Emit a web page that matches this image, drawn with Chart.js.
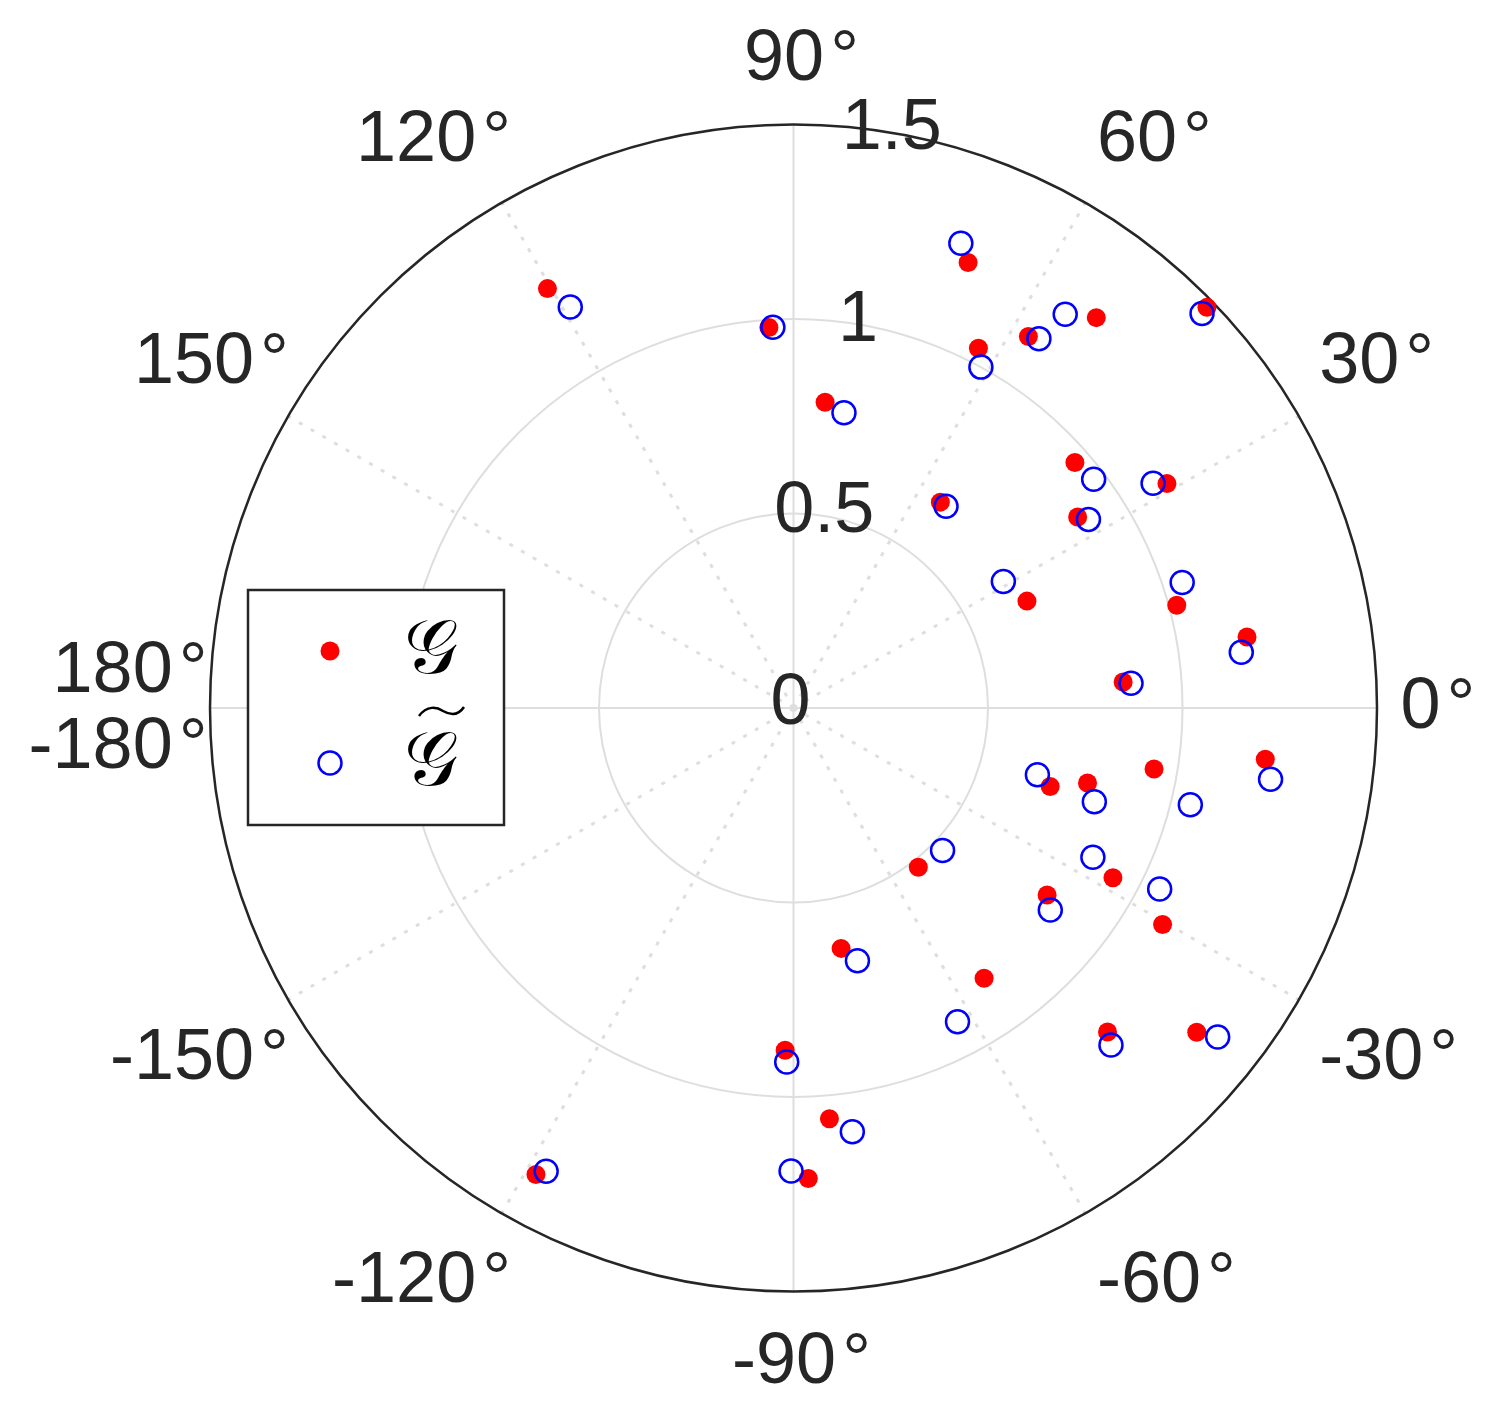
<!DOCTYPE html>
<html>
<head>
<meta charset="utf-8">
<script src="https://cdn.jsdelivr.net/npm/chart.js@4.4.1/dist/chart.umd.min.js"></script>
<style>
    body { margin: 0; background: #ffffff; }
    canvas { display: block; }
</style>
</head>
<body>
<canvas id="polarChart" width="1500" height="1410"></canvas>
<script>
// G (red dots): angle in degrees, radius
const gTheta = [120.4, 93.7, 84.1, 68.6, 62.8, 57.7, 52.2, 44.1, 41.1, 31.0, 54.5, 33.9, 24.6, 15.0, 8.9, 4.5,
    -17.0, -14.3, -9.6, -6.2, -28.0, -30.4, -36.4, -51.9, -54.8, -45.9, -38.8, -78.8, -91.4, -85.0, -88.2, -118.9];
const gR = [1.25, 0.98, 0.79, 1.23, 1.04, 1.13, 1.27, 1.48, 0.96, 1.12, 0.65, 0.88, 0.66, 1.02, 1.18, 0.85,
    0.69, 0.78, 0.94, 1.22, 0.93, 1.10, 0.81, 0.52, 0.85, 1.16, 1.33, 0.63, 0.88, 1.06, 1.21, 1.37];

// G tilde (blue circles)
const gtTheta = [119.1, 93.1, 80.3, 70.2, 61.2, 56.4, 55.4, 44.0, 37.3, 32.0, 52.9, 32.6, 31.1, 17.9, 7.1, 4.2,
    -15.3, -17.3, -13.7, -8.5, -26.5, -26.3, -38.2, -43.7, -62.4, -46.7, -37.8, -75.8, -91.1, -82.1, -90.3, -118.1];
const gtR = [1.18, 0.98, 0.77, 1.27, 1.00, 1.14, 1.23, 1.46, 0.97, 1.09, 0.65, 0.90, 0.63, 1.05, 1.16, 0.87,
    0.65, 0.81, 1.05, 1.24, 0.86, 1.05, 0.84, 0.53, 0.91, 1.19, 1.38, 0.67, 0.91, 1.10, 1.19, 1.35];

// axis ticks
const rMax = 1.5;
const rTicks = [0, 0.5, 1, 1.5];
const rTickLabels = ['0', '0.5', '1', '1.5'];
const thetaTicks = [0, 30, 60, 90, 120, 150, 180, -180, -150, -120, -90, -60, -30];
const thetaTickLabels = ['0', '30', '60', '90', '120', '150', '180', '-180', '-150', '-120', '-90', '-60', '-30'];
const seriesLabels = ['\u{1D4A2}', '\u{1D4A2}'];

const deg = Math.PI / 180;
const toXY = (thetas, rs) => thetas.map((t, i) => ({ x: rs[i] * Math.cos(t * deg), y: rs[i] * Math.sin(t * deg) }));

const textColor = '#262626';
const gridColor = '#dedede';
const labelFont = '72px "Liberation Sans", Arial, sans-serif';

function drawDegLabel(ctx, num, px, py, align) {
    const gap = 6;
    const wNum = ctx.measureText(num).width;
    const wDeg = ctx.measureText('°').width;
    const total = wNum + gap + wDeg;
    let x0 = px - total / 2;
    if (align === 'left') x0 = px;
    if (align === 'right') x0 = px - total;
    ctx.textAlign = 'left';
    ctx.fillText(num, x0, py);
    ctx.fillText('°', x0 + wNum + gap, py);
}

const polarGrid = {
    id: 'polarGrid',
    beforeDatasetsDraw(chart) {
        const { ctx, scales: { x, y } } = chart;
        const cx = x.getPixelForValue(0);
        const cy = y.getPixelForValue(0);
        const unit = x.getPixelForValue(1) - cx;
        ctx.save();

        // rings
        ctx.strokeStyle = gridColor;
        ctx.lineWidth = 2;
        rTicks.filter(r => r > 0 && r < rMax).forEach(r => {
            ctx.beginPath();
            ctx.arc(cx, cy, r * unit, 0, 2 * Math.PI);
            ctx.stroke();
        });

        // spokes, solid on the axes and dotted between
        for (let a = 0; a < 360; a += 30) {
            const solid = a % 90 === 0;
            ctx.setLineDash(solid ? [] : [4, 9.5]);
            ctx.lineWidth = solid ? 2 : 3;
            ctx.beginPath();
            ctx.moveTo(cx, cy);
            ctx.lineTo(x.getPixelForValue(rMax * Math.cos(a * deg)), y.getPixelForValue(rMax * Math.sin(a * deg)));
            ctx.stroke();
        }
        ctx.setLineDash([]);

        // outer edge
        ctx.strokeStyle = textColor;
        ctx.lineWidth = 2.5;
        ctx.beginPath();
        ctx.arc(cx, cy, rMax * unit, 0, 2 * Math.PI);
        ctx.stroke();

        ctx.fillStyle = textColor;
        ctx.font = labelFont;

        // r tick labels along 80 degrees
        ctx.textAlign = 'center';
        ctx.textBaseline = 'middle';
        rTicks.forEach((r, i) => {
            const px = x.getPixelForValue(r * Math.cos(80 * deg)) - 3;
            const py = y.getPixelForValue(r * Math.sin(80 * deg)) - 4;
            ctx.fillText(rTickLabels[i], px, py);
        });

        // theta tick labels
        const rr = rMax * unit + 23.5;
        thetaTicks.forEach((t, i) => {
            const c = Math.cos(t * deg);
            const s = Math.sin(t * deg);
            let align = 'center';
            let shiftX = 8;
            if (Math.abs(c) > 1e-6) {
                align = c > 0 ? 'left' : 'right';
                shiftX = c > 0 ? 0 : 21;
            }
            let base = 'middle';
            let shiftY = 0;
            if (t > 0) { base = 'bottom'; shiftY = t === 180 ? 0 : -5; }
            if (t < 0) { base = 'top'; shiftY = t === -180 ? 4 : 12; }
            ctx.textBaseline = base;
            drawDegLabel(ctx, thetaTickLabels[i], cx + rr * c + shiftX, cy - rr * s + shiftY, align);
        });
        ctx.restore();
    },
    afterDraw(chart) {
        // legend box
        const { ctx } = chart;
        const sets = chart.data.datasets;
        ctx.save();
        ctx.fillStyle = '#ffffff';
        ctx.strokeStyle = textColor;
        ctx.lineWidth = 2.5;
        ctx.fillRect(248, 590, 256, 235);
        ctx.strokeRect(248, 590, 256, 235);

        const rows = [651, 763];
        sets.forEach((ds, i) => {
            ctx.beginPath();
            ctx.arc(330, rows[i], ds.pointRadius, 0, 2 * Math.PI);
            if (ds.borderWidth > 0) {
                ctx.lineWidth = ds.borderWidth;
                ctx.strokeStyle = ds.borderColor;
                ctx.stroke();
            } else {
                ctx.fillStyle = ds.backgroundColor;
                ctx.fill();
            }
            ctx.fillStyle = '#000000';
            ctx.font = '76px "DejaVu Serif", "DejaVu Sans", serif';
            ctx.textAlign = 'left';
            ctx.textBaseline = 'alphabetic';
            ctx.fillText(ds.label, 404, rows[i] + 22);
        });

        // tilde over the second symbol
        ctx.strokeStyle = '#000000';
        ctx.lineWidth = 2.5;
        ctx.beginPath();
        ctx.moveTo(419, 716);
        ctx.bezierCurveTo(427, 705, 437, 707, 443, 711);
        ctx.bezierCurveTo(450, 715, 458, 716, 464, 707);
        ctx.stroke();
        ctx.restore();
    }
};

document.addEventListener('DOMContentLoaded', () => {
    const ctx = document.getElementById('polarChart').getContext('2d');
    new Chart(ctx, {
        type: 'scatter',
        data: {
            datasets: [{
                label: seriesLabels[0],
                data: toXY(gTheta, gR),
                pointStyle: 'circle',
                pointRadius: 9.5,
                backgroundColor: '#ff0000',
                borderColor: '#ff0000',
                borderWidth: 0,
                order: 1,
                clip: false
            }, {
                label: seriesLabels[1],
                data: toXY(gtTheta, gtR),
                pointStyle: 'circle',
                pointRadius: 11.5,
                backgroundColor: 'rgba(0,0,0,0)',
                borderColor: '#0000ff',
                borderWidth: 2.5,
                order: 0,
                clip: false
            }]
        },
        options: {
            responsive: false,
            animation: false,
            devicePixelRatio: 1,
            layout: {
                padding: { left: 210, right: 123, top: 124.5, bottom: 118.5 }
            },
            scales: {
                x: { type: 'linear', min: -rMax, max: rMax, display: false },
                y: { type: 'linear', min: -rMax, max: rMax, display: false }
            },
            plugins: {
                legend: { display: false },
                tooltip: { enabled: false }
            }
        },
        plugins: [polarGrid]
    });
});
</script>
</body>
</html>
